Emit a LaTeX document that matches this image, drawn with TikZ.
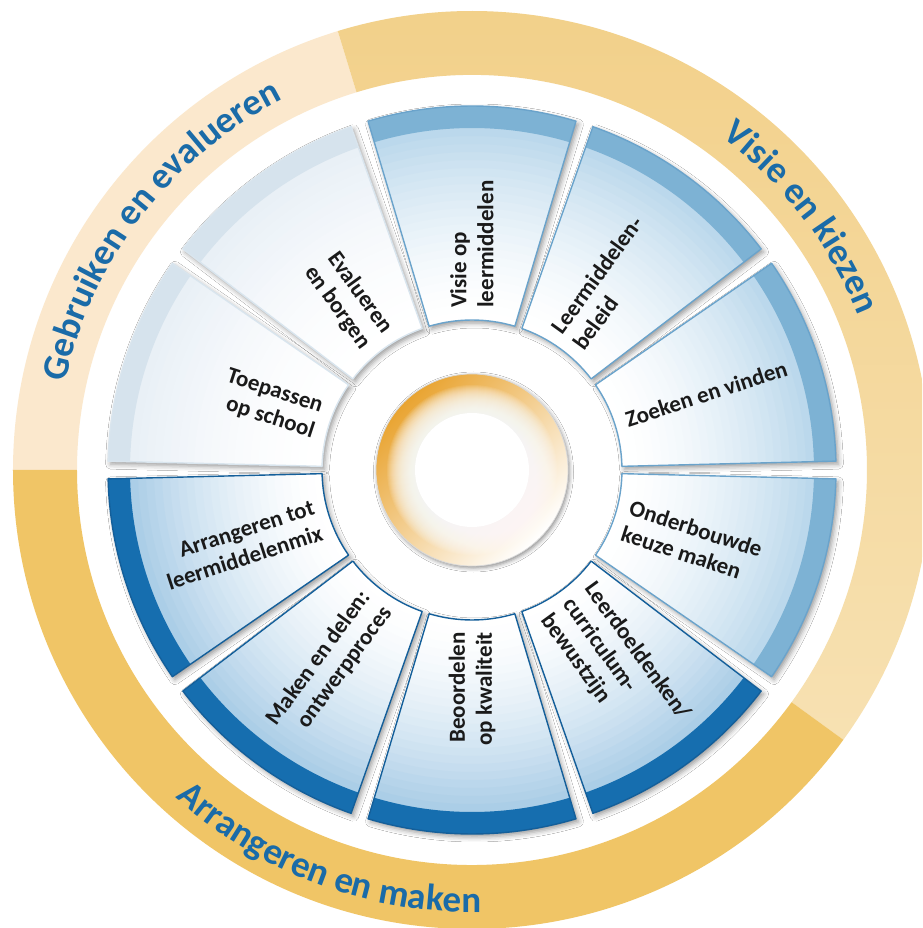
\documentclass[tikz,border=0pt]{standalone}
\usepackage{fontspec}
\setmainfont{Carlito}
\usetikzlibrary{decorations.text,shadows.blur}
\definecolor{ringlight}{HTML}{FBE8CD}
\definecolor{ringmidA}{HTML}{F2D089}
\definecolor{ringmidB}{HTML}{F7E1B2}
\definecolor{ringdark}{HTML}{F0C566}
\definecolor{ringtext}{HTML}{1A6BA8}
\definecolor{bandA}{HTML}{7DB2D4}
\definecolor{gradA}{HTML}{B9D7EB}
\definecolor{edgeA}{HTML}{6AA3CB}
\definecolor{bandB}{HTML}{166EAF}
\definecolor{gradB}{HTML}{A8CCE6}
\definecolor{edgeB}{HTML}{145F9A}
\definecolor{bandC}{HTML}{D6E3ED}
\definecolor{gradC}{HTML}{E8EFF6}
\definecolor{edgeC}{HTML}{D9E5EE}
\definecolor{hubgold}{HTML}{E9A431}
\definecolor{labeltext}{HTML}{1A1A1A}
\newcommand{\segRin}{150}
\newcommand{\segRout}{364}
\newcommand{\segRband}{342}
\newcommand{\segHalf}{16.6}
\newcommand{\rngfont}{\bfseries\fontsize{37pt}{40pt}\selectfont}
\newcommand{\segshadow}[1]{%
  \fill[white, blur shadow={shadow xshift=2.5pt, shadow yshift=-3pt, shadow blur radius=5pt, shadow opacity=40}]
    ({#1-\segHalf}:\segRin pt) arc[start angle={#1-\segHalf}, end angle={#1+\segHalf}, radius=\segRin pt]
    -- ({#1+\segHalf}:\segRout pt) arc[start angle={#1+\segHalf}, end angle={#1-\segHalf}, radius=\segRout pt] -- cycle;}
\newcommand{\segbody}[2]{%
  \foreach \k in {0,...,23}{%
    \pgfmathsetmacro\segRa{\segRin+\k*8}%
    \pgfmathsetmacro\segRb{\segRa+8.6}%
    \pgfmathsetmacro\segPct{100*((\k+0.5)/24)^1.6}%
    \fill[fill=grad#2!\segPct!white]
      ({#1-\segHalf}:\segRa pt) arc[start angle={#1-\segHalf}, end angle={#1+\segHalf}, radius=\segRa pt]
      -- ({#1+\segHalf}:\segRb pt) arc[start angle={#1+\segHalf}, end angle={#1-\segHalf}, radius=\segRb pt] -- cycle;
  }%
  \fill[fill=band#2]
    ({#1-\segHalf}:\segRband pt) arc[start angle={#1-\segHalf}, end angle={#1+\segHalf}, radius=\segRband pt]
    -- ({#1+\segHalf}:\segRout pt) arc[start angle={#1+\segHalf}, end angle={#1-\segHalf}, radius=\segRout pt] -- cycle;
  \draw[draw=edge#2, line width=1.4pt, line join=round]
    ({#1-\segHalf}:\segRin pt) arc[start angle={#1-\segHalf}, end angle={#1+\segHalf}, radius=\segRin pt]
    -- ({#1+\segHalf}:\segRout pt) arc[start angle={#1+\segHalf}, end angle={#1-\segHalf}, radius=\segRout pt] -- cycle;}
\tikzset{
  lab/.style={font=\bfseries\fontsize{23pt}{27pt}\selectfont, text=labeltext, inner sep=0pt},
  outlab/.style={lab, rotate=#1, anchor=west, align=left},
  inlab/.style={lab, rotate=#1, anchor=east, align=right},
  ringlabel/.style={decorate, decoration={text along path, text align=center, text color=ringtext, text={|\rngfont|#1}}}
}
\begin{document}
\begin{tikzpicture}
\useasboundingbox (-472pt,-458pt) rectangle (450pt,470pt);
\fill[white] (-472pt,-458pt) rectangle (450pt,470pt);
\clip (-472pt,-458pt) rectangle (450pt,470pt);
% outer ring
\fill[ringlight] (107:459pt) arc[start angle=107, end angle=180, radius=459pt]
  -- (180:395pt) arc[start angle=180, end angle=107, radius=395pt] -- cycle;
\shade[top color=ringmidA, bottom color=ringmidB] (-36:459pt) arc[start angle=-36, end angle=107, radius=459pt]
  -- (107:395pt) arc[start angle=107, end angle=-36, radius=395pt] -- cycle;
\fill[ringdark] (180:459pt) arc[start angle=180, end angle=324, radius=459pt]
  -- (324:395pt) arc[start angle=324, end angle=180, radius=395pt] -- cycle;
% ring texts
\path[ringlabel={Visie en kiezen}] (80:416pt) arc[start angle=80, end angle=-5, radius=416pt];
\path[ringlabel={Gebruiken en evalueren}] (187.4:416pt) arc[start angle=187.4, end angle=97.4, radius=416pt];
\path[ringlabel={Arrangeren en maken}] (204.5:442pt) arc[start angle=204.5, end angle=294.5, radius=442pt];
% segments
\foreach \a in {90,54,18,-18,-54,-90,-126,198,162,126}{\segshadow{\a}}
\foreach \a/\g in {90/A,54/A,18/A,-18/A,-54/B,-90/B,-126/B,198/B,162/C,126/C}{\segbody{\a}{\g}}
% hub
\fill[white, blur shadow={shadow xshift=1.5pt, shadow yshift=-2pt, shadow blur radius=4pt, shadow opacity=45}] (0,0) circle[radius=96pt];
\shade[top color=hubgold, middle color=hubgold!35!white, bottom color=white, shading angle=45] (0,0) circle[radius=96pt];
\foreach \i in {0,...,27}{\pgfmathsetmacro\hubR{85-\i}\fill[white, opacity=0.09] (0,0) circle[radius=\hubR pt];}
\fill[white] (0,0) circle[radius=57pt];
\draw[black!15, line width=0.7pt] (0,0) circle[radius=96pt];
% labels
\node[outlab=90] (visie) at (90:162pt) {Visie op\\leermiddelen};
\node[outlab=54] (beleid) at (54:162pt) {Leermiddelen-\\beleid};
\node[outlab=18] (zoeken) at (18:162pt) {Zoeken en vinden};
\node[outlab=-18] (keuze) at (-18:162pt) {Onderbouwde\\keuze maken};
\node[outlab=-54] (leerdoel) at (-54:162pt) {Leerdoeldenken/\\curriculum-\\bewustzijn};
\node[inlab=90] (beoordelen) at (-90:162pt) {Beoordelen\\op kwaliteit};
\node[inlab=54] (maken) at (-126:162pt) {Maken en delen:\\ontwerpproces};
\node[inlab=18] (arrangeren) at (198:162pt) {Arrangeren tot\\leermiddelenmix};
\node[inlab=-18] (toepassen) at (162:162pt) {Toepassen\\op school};
\node[inlab=-54] (evalueren) at (126:162pt) {Evalueren\\en borgen};
\end{tikzpicture}
\end{document}
